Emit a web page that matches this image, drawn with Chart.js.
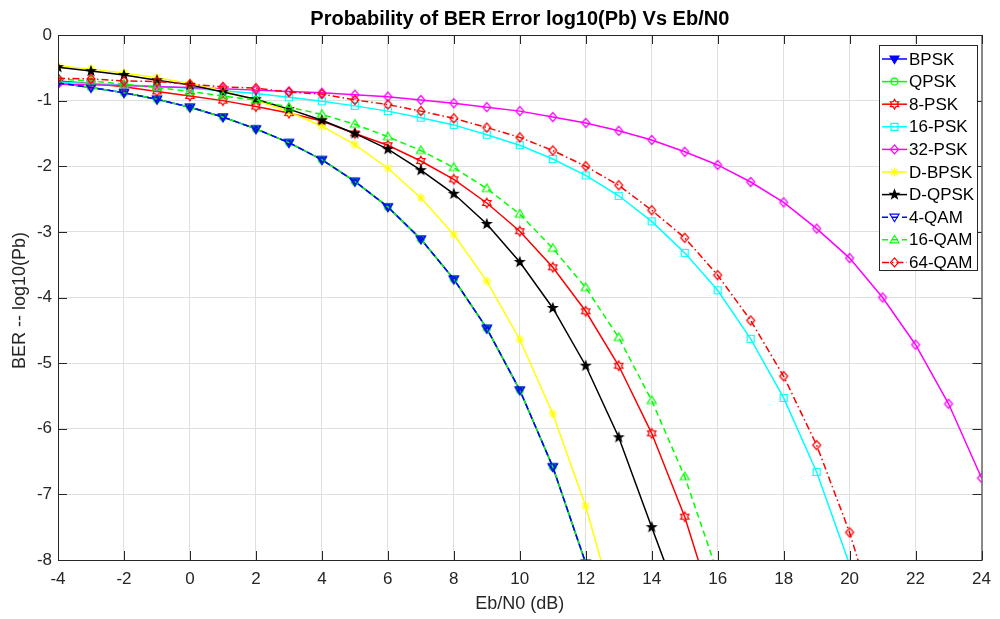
<!DOCTYPE html>
<html>
<head>
<meta charset="utf-8">
<title>Probability of BER Error log10(Pb) Vs Eb/N0</title>
<script src="https://cdn.jsdelivr.net/npm/chart.js@4.4.1/dist/chart.umd.min.js"></script>
<style>
  html, body { margin: 0; padding: 0; background: #fff; }
  #wrap { width: 1000px; height: 619px; }
</style>
</head>
<body>
<div id="wrap"><canvas id="berChart" width="1000" height="619"></canvas></div>
<script>
// Eb/N0 in dB, one sample per dB
const ebn0 = [-4, -3, -2, -1, 0, 1, 2, 3, 4, 5, 6, 7, 8, 9, 10, 11, 12, 13, 14, 15, 16, 17, 18, 19, 20, 21, 22, 23, 24];
const xTickVals = [-4, -2, 0, 2, 4, 6, 8, 10, 12, 14, 16, 18, 20, 22, 24];
const yTickVals = [-8, -7, -6, -5, -4, -3, -2, -1, 0];

// log10(Pb) (values past -8 are only there so the line runs off the bottom)
const bpsk   = [-0.73, -0.80, -0.88, -0.98, -1.10, -1.25, -1.43, -1.64, -1.90, -2.23, -2.62, -3.11, -3.72, -4.47, -5.41, -6.58, -8.05];
const qpsk   = [-0.73, -0.80, -0.88, -0.98, -1.10, -1.25, -1.43, -1.64, -1.90, -2.23, -2.62, -3.11, -3.72, -4.47, -5.41, -6.58, -8.05];
const psk8   = [-0.70, -0.74, -0.79, -0.86, -0.93, -1.00, -1.09, -1.19, -1.31, -1.50, -1.68, -1.92, -2.20, -2.56, -2.99, -3.54, -4.21, -5.04, -6.07, -7.34, -8.95];
const psk16  = [-0.72, -0.74, -0.76, -0.78, -0.81, -0.85, -0.89, -0.95, -1.01, -1.08, -1.16, -1.26, -1.37, -1.52, -1.68, -1.89, -2.14, -2.45, -2.84, -3.32, -3.89, -4.63, -5.53, -6.66, -8.07];
const psk32  = [-0.75, -0.76, -0.77, -0.79, -0.80, -0.82, -0.84, -0.86, -0.88, -0.91, -0.94, -0.99, -1.04, -1.10, -1.16, -1.25, -1.34, -1.46, -1.60, -1.78, -1.98, -2.24, -2.55, -2.95, -3.40, -4.00, -4.72, -5.62, -6.75];
const dbpsk  = [-0.47, -0.52, -0.58, -0.65, -0.74, -0.85, -0.99, -1.17, -1.39, -1.67, -2.03, -2.48, -3.04, -3.75, -4.64, -5.77, -7.18, -8.97];
const dqpsk  = [-0.49, -0.55, -0.61, -0.69, -0.76, -0.87, -0.98, -1.13, -1.30, -1.50, -1.74, -2.06, -2.42, -2.88, -3.46, -4.16, -5.04, -6.13, -7.50, -8.85];
const qam4   = [-0.73, -0.80, -0.88, -0.98, -1.10, -1.25, -1.43, -1.64, -1.90, -2.23, -2.62, -3.11, -3.72, -4.47, -5.41, -6.58, -8.05];
const qam16  = [-0.67, -0.70, -0.75, -0.80, -0.86, -0.93, -0.99, -1.10, -1.21, -1.36, -1.55, -1.76, -2.02, -2.34, -2.73, -3.25, -3.85, -4.61, -5.57, -6.73, -8.20];
const qam64  = [-0.66, -0.67, -0.70, -0.71, -0.75, -0.79, -0.81, -0.87, -0.90, -0.99, -1.06, -1.16, -1.27, -1.41, -1.56, -1.76, -2.00, -2.29, -2.67, -3.09, -3.66, -4.35, -5.20, -6.25, -7.58, -9.24];

const DASH    = [6, 4];
const DASHDOT = [7, 3, 1.5, 3];

const SERIES = [
    { label: "BPSK",   data: bpsk,  color: "#0000ff", dash: [],      marker: "vfill" },
    { label: "QPSK",   data: qpsk,  color: "#00ff00", dash: [],      marker: "o" },
    { label: "8-PSK",  data: psk8,  color: "#ff0000", dash: [],      marker: "h" },
    { label: "16-PSK", data: psk16, color: "#00ffff", dash: [],      marker: "s" },
    { label: "32-PSK", data: psk32, color: "#ff00ff", dash: [],      marker: "d" },
    { label: "D-BPSK", data: dbpsk, color: "#ffff00", dash: [],      marker: "*" },
    { label: "D-QPSK", data: dqpsk, color: "#000000", dash: [],      marker: "pfill" },
    { label: "4-QAM",  data: qam4,  color: "#0000ff", dash: DASH,    marker: "v" },
    { label: "16-QAM", data: qam16, color: "#00ff00", dash: DASH,    marker: "^" },
    { label: "64-QAM", data: qam64, color: "#ff0000", dash: DASHDOT, marker: "d" },
];

const FONT = "'Liberation Sans', Arial, Helvetica, sans-serif";
const AXIS_COLOR = "#262626";

// MATLAB-ish markers
function drawMarker(ctx, kind, x, y, color) {
    ctx.save();
    ctx.strokeStyle = color;
    ctx.fillStyle = color;
    ctx.lineWidth = 1.2;
    ctx.setLineDash([]);
    ctx.beginPath();
    if (kind === "o") {
        ctx.arc(x, y, 3.5, 0, Math.PI * 2);
    } else if (kind === "s") {
        ctx.rect(x - 3.5, y - 3.5, 7, 7);
    } else if (kind === "d") {
        ctx.moveTo(x, y - 4.5); ctx.lineTo(x + 4, y); ctx.lineTo(x, y + 4.5); ctx.lineTo(x - 4, y); ctx.closePath();
    } else if (kind === "v" || kind === "vfill") {
        ctx.moveTo(x - 4.5, y - 3); ctx.lineTo(x + 4.5, y - 3); ctx.lineTo(x, y + 4.5); ctx.closePath();
    } else if (kind === "^") {
        ctx.moveTo(x - 4.5, y + 3); ctx.lineTo(x + 4.5, y + 3); ctx.lineTo(x, y - 4.5); ctx.closePath();
    } else if (kind === "*") {
        for (let k = 0; k < 4; k++) {
            const t = k * Math.PI / 4;
            ctx.moveTo(x - 4.5 * Math.cos(t), y - 4.5 * Math.sin(t));
            ctx.lineTo(x + 4.5 * Math.cos(t), y + 4.5 * Math.sin(t));
        }
    } else if (kind === "h" || kind === "pfill") {
        const n  = kind === "h" ? 6 : 5;
        const ro = kind === "h" ? 4.8 : 4.6;
        const ri = kind === "h" ? 2.8 : 1.9;
        for (let k = 0; k < 2 * n; k++) {
            const r = k % 2 ? ri : ro;
            const t = -Math.PI / 2 + k * Math.PI / n;
            const px = x + r * Math.cos(t), py = y + r * Math.sin(t);
            if (k) ctx.lineTo(px, py); else ctx.moveTo(px, py);
        }
        ctx.closePath();
    }
    if (kind === "vfill" || kind === "pfill") ctx.fill();
    ctx.stroke();
    ctx.restore();
}

function markerCanvas(kind, color) {
    const c = document.createElement("canvas");
    c.width = 16; c.height = 16;
    drawMarker(c.getContext("2d"), kind, 8, 8, color);
    return c;
}

// box, inward ticks, titles and the in-axes legend
const matlabFrame = {
    id: "matlabFrame",
    afterDraw(chart) {
        const ctx = chart.ctx, a = chart.chartArea;
        const xs = chart.scales.x, ys = chart.scales.y;
        ctx.save();
        ctx.strokeStyle = AXIS_COLOR;
        ctx.lineWidth = 1;
        ctx.setLineDash([]);
        ctx.strokeRect(a.left + 0.5, a.top + 0.5, a.right - a.left, a.bottom - a.top);

        ctx.beginPath();
        xTickVals.forEach(function (v) {
            const px = Math.round(xs.getPixelForValue(v)) + 0.5;
            ctx.moveTo(px, a.bottom); ctx.lineTo(px, a.bottom - 9);
            ctx.moveTo(px, a.top);    ctx.lineTo(px, a.top + 9);
        });
        yTickVals.forEach(function (v) {
            const py = Math.round(ys.getPixelForValue(v)) + 0.5;
            ctx.moveTo(a.left, py);  ctx.lineTo(a.left + 9, py);
            ctx.moveTo(a.right, py); ctx.lineTo(a.right - 9, py);
        });
        ctx.stroke();

        const cx = (a.left + a.right) / 2;
        ctx.fillStyle = "#000";
        ctx.textAlign = "center";
        ctx.textBaseline = "middle";
        ctx.font = "bold 20px " + FONT;
        ctx.fillText("Probability of BER Error log10(Pb) Vs Eb/N0", cx, 19);

        ctx.fillStyle = AXIS_COLOR;
        ctx.font = "18px " + FONT;
        ctx.fillText("Eb/N0 (dB)", cx, 604);
        ctx.save();
        ctx.translate(20, (a.top + a.bottom) / 2 + 3);
        ctx.rotate(-Math.PI / 2);
        ctx.fillText("BER -- log10(Pb)", 0, 0);
        ctx.restore();

        // legend
        const lx = 879, ly = 45, lw = 98, lh = 225, row = 22.6;
        ctx.fillStyle = "#fff";
        ctx.fillRect(lx, ly, lw, lh);
        ctx.strokeStyle = AXIS_COLOR;
        ctx.strokeRect(lx + 0.5, ly + 0.5, lw, lh);
        ctx.font = "17px " + FONT;
        ctx.textAlign = "left";
        SERIES.forEach(function (s, i) {
            const cy = ly + 14 + i * row;
            ctx.strokeStyle = s.color;
            ctx.lineWidth = 1.5;
            ctx.setLineDash(s.dash);
            ctx.beginPath();
            ctx.moveTo(882, cy); ctx.lineTo(907, cy);
            ctx.stroke();
            ctx.setLineDash([]);
            drawMarker(ctx, s.marker, 894.5, cy, s.color);
            ctx.fillStyle = "#000";
            ctx.fillText(s.label, 909, cy + 1);
        });
        ctx.restore();
    }
};

const tickFont = { family: FONT, size: 17 };

new Chart(document.getElementById("berChart"), {
    type: "line",
    data: {
        datasets: SERIES.map(function (s, i) {
            return {
                label: s.label,
                data: s.data.map(function (v, k) { return { x: ebn0[k], y: v }; }),
                borderColor: s.color,
                backgroundColor: s.color,
                borderWidth: 1.5,
                borderDash: s.dash,
                pointStyle: markerCanvas(s.marker, s.color),
                pointRadius: 4,
                fill: false,
                tension: 0,
                clip: 0,
                order: SERIES.length - i   // later series drawn on top
            };
        })
    },
    options: {
        responsive: false,
        animation: false,
        layout: { padding: { top: 35, right: 13, left: 0, bottom: 0 } },
        plugins: {
            legend: { display: false },
            title: { display: false },
            tooltip: { enabled: false }
        },
        scales: {
            x: {
                type: "linear",
                min: -4, max: 24,
                afterBuildTicks: function (s) { s.ticks = xTickVals.map(function (v) { return { value: v }; }); },
                afterFit: function (s) { s.height = 59; },
                grid: { color: "#dfdfdf", drawTicks: false },
                border: { display: false },
                ticks: { padding: 9, font: tickFont, color: AXIS_COLOR, maxRotation: 0, autoSkip: false }
            },
            y: {
                type: "linear",
                min: -8, max: 0,
                afterBuildTicks: function (s) { s.ticks = yTickVals.map(function (v) { return { value: v }; }); },
                afterFit: function (s) { s.width = 58; },
                grid: { color: "#dfdfdf", drawTicks: false },
                border: { display: false },
                ticks: { padding: 6, font: tickFont, color: AXIS_COLOR, autoSkip: false }
            }
        }
    },
    plugins: [matlabFrame]
});
</script>
</body>
</html>
